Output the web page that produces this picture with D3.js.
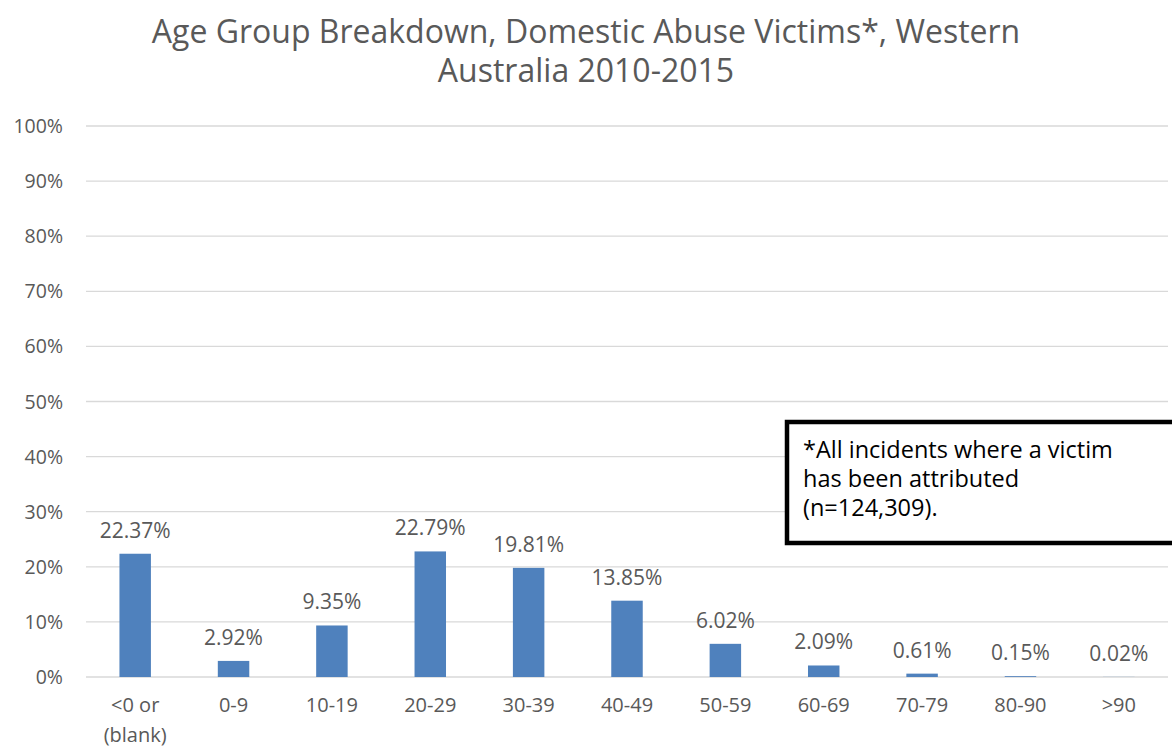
<!DOCTYPE html>
<html>
<head>
<meta charset="utf-8">
<script src="https://cdn.jsdelivr.net/npm/d3@7"></script>
<style>
  body { margin: 0; background: #fff; }
  svg { display: block; }
</style>
</head>
<body>
<svg id="chart" width="1172" height="749"></svg>
<script>
// chart values
var categories = ['<0 or\n(blank)', '0-9', '10-19', '20-29', '30-39', '40-49', '50-59', '60-69', '70-79', '80-90', '>90'];
var shares = [22.37, 2.92, 9.35, 22.79, 19.81, 13.85, 6.02, 2.09, 0.61, 0.15, 0.02];
var yTicks = [0, 10, 20, 30, 40, 50, 60, 70, 80, 90, 100];
var titleLines = ['Age Group Breakdown, Domestic Abuse Victims*, Western', 'Australia 2010-2015'];
var noteLines = ['*All incidents where a victim', 'has been attributed', '(n=124,309).'];

var svg = d3.select('#chart');
var plotLeft = 86, plotRight = 1168, plotTop = 126, plotBottom = 677;
var labelFont = '"Open Sans", sans-serif';
var grey = '#595959';

var x = d3.scaleBand().domain(categories).range([plotLeft, plotRight]).paddingInner(0.68).paddingOuter(0.34);
var y = d3.scaleLinear().domain([0, 100]).range([plotBottom, plotTop]);

// gridlines
svg.append('g')
  .selectAll('line')
  .data(yTicks)
  .enter()
  .append('line')
  .attr('x1', plotLeft)
  .attr('x2', plotRight)
  .attr('y1', d => y(d))
  .attr('y2', d => y(d))
  .attr('stroke', '#d9d9d9')
  .attr('stroke-width', 1.3);

// y axis labels
svg.append('g')
  .selectAll('text')
  .data(yTicks)
  .enter()
  .append('text')
  .attr('x', 63)
  .attr('y', d => y(d) + 7)
  .attr('text-anchor', 'end')
  .attr('font-family', labelFont)
  .attr('font-size', 19.5)
  .attr('fill', grey)
  .text(d => d + '%');

// bars
svg.append('g')
  .selectAll('rect')
  .data(shares)
  .enter()
  .append('rect')
  .attr('x', (d, i) => x(categories[i]))
  .attr('width', x.bandwidth())
  .attr('y', d => y(d))
  .attr('height', d => plotBottom - y(d))
  .attr('fill', '#4f81bd');

// data labels
svg.append('g')
  .selectAll('text')
  .data(shares)
  .enter()
  .append('text')
  .attr('x', (d, i) => x(categories[i]) + x.bandwidth() / 2)
  .attr('y', d => y(d) - 16)
  .attr('text-anchor', 'middle')
  .attr('font-family', labelFont)
  .attr('font-size', 21)
  .attr('fill', grey)
  .text(d => d.toFixed(2) + '%');

// category labels
var catText = svg.append('g')
  .selectAll('text')
  .data(categories)
  .enter()
  .append('text')
  .attr('x', d => x(d) + x.bandwidth() / 2)
  .attr('y', 712)
  .attr('text-anchor', 'middle')
  .attr('font-family', labelFont)
  .attr('font-size', 20)
  .attr('fill', grey);
catText.selectAll('tspan')
  .data(d => d.split('\n'))
  .enter()
  .append('tspan')
  .attr('x', function() { return d3.select(this.parentNode).attr('x'); })
  .attr('dy', (d, i) => i ? 30 : 0)
  .text(d => d);

// title
svg.append('g')
  .selectAll('text')
  .data(titleLines)
  .enter()
  .append('text')
  .attr('x', 586)
  .attr('y', (d, i) => 43 + i * 39)
  .attr('text-anchor', 'middle')
  .attr('font-family', labelFont)
  .attr('font-size', 32)
  .attr('fill', grey)
  .text(d => d);

// note box
svg.append('rect')
  .attr('x', 787)
  .attr('y', 422)
  .attr('width', 400)
  .attr('height', 121)
  .attr('fill', '#fff')
  .attr('stroke', '#000')
  .attr('stroke-width', 4.5);
svg.append('g')
  .selectAll('text')
  .data(noteLines)
  .enter()
  .append('text')
  .attr('x', 803)
  .attr('y', (d, i) => 458 + i * 29)
  .attr('font-family', labelFont)
  .attr('font-size', 23.5)
  .attr('fill', '#000')
  .text(d => d);
</script>
</body>
</html>
